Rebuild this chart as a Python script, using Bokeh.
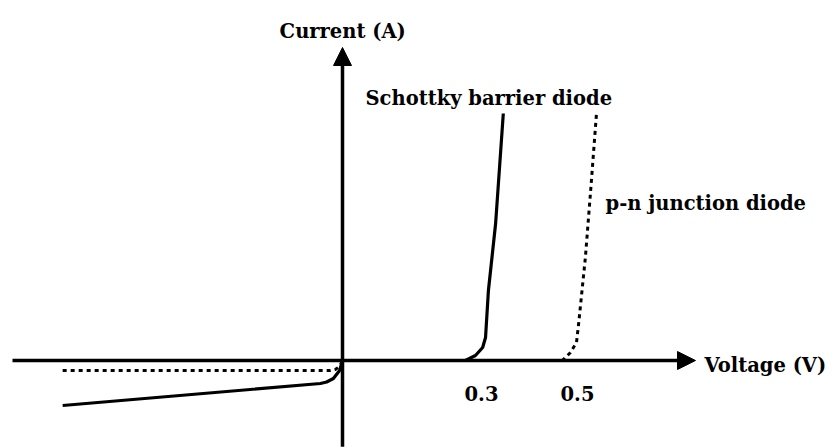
from bokeh.plotting import figure
from bokeh.models import Range1d, Arrow, NormalHead, ColumnDataSource
from bokeh.core.properties import value
from bokeh.embed import file_html
from bokeh.resources import INLINE

# --- data (voltage in V, current in arbitrary units) ---
schottky_v = [-0.583, -0.046, -0.033, -0.019, -0.006, 0.0, 0.256, 0.277, 0.292, 0.298, 0.304, 0.319, 0.335]
schottky_i = [-0.180, -0.092, -0.086, -0.072, -0.040, 0.0, 0.0, 0.020, 0.052, 0.092, 0.280, 0.548, 0.988]

pn_v = [-0.583, -0.025, -0.015, -0.006, 0.0, 0.458, 0.475, 0.4875, 0.492, 0.506, 0.517, 0.529]
pn_i = [-0.040, -0.040, -0.036, -0.024, 0.0, 0.0, 0.032, 0.072, 0.148, 0.412, 0.680, 0.984]

tick_values = [0.3, 0.5]
tick_labels = ["0.3", "0.5"]

x_title = "Voltage (V)"
y_title = "Current (A)"
schottky_label = "Schottky barrier diode"
pn_label = "p-n junction diode"

FONT = value("DejaVu Serif")
FS = "19.5px"

p = figure(width=835, height=447, output_backend="svg", toolbar_location=None,
           x_range=Range1d(-0.7125, 1.02708), y_range=Range1d(-0.348, 1.44),
           x_axis_location=None, y_axis_location=None, min_border=0)
p.grid.visible = False
p.outline_line_color = None
p.background_fill_color = "white"
p.border_fill_color = "white"

# axes with arrowheads
p.add_layout(Arrow(end=NormalHead(size=18, fill_color="black", line_color="black"),
                   x_start=-0.6875, y_start=0.0, x_end=0.7354, y_end=0.0,
                   line_width=3.5, line_color="black"))
p.add_layout(Arrow(end=NormalHead(size=18, fill_color="black", line_color="black"),
                   x_start=0.0, y_start=-0.345, x_end=0.0, y_end=1.252,
                   line_width=3.5, line_color="black"))

# curves
p.line(schottky_v, schottky_i, line_width=3.2, line_color="black", line_join="round")
p.line(pn_v, pn_i, line_width=3.0, line_color="black", line_dash="4 4")

# tick labels
src = ColumnDataSource(dict(x=tick_values, y=[0.0] * len(tick_values), t=tick_labels))
p.text(x="x", y="y", text="t", source=src, text_font=FONT, text_font_size=FS,
       text_font_style="bold", text_align="center", text_baseline="alphabetic",
       y_offset=33, x_offset=-5, text_color="black")

def label(x, y, t, align="left"):
    p.text(x=[x], y=[y], text=[t], text_font=FONT, text_font_size=FS,
           text_font_style="bold", text_align=align, text_baseline="alphabetic",
           text_color="black")

label(-0.131, 1.316, y_title)
label(0.0479, 1.048, schottky_label)
label(0.548, 0.628, pn_label)
label(0.754, -0.02, x_title)

open("out.html", "w").write(file_html(p, INLINE))
